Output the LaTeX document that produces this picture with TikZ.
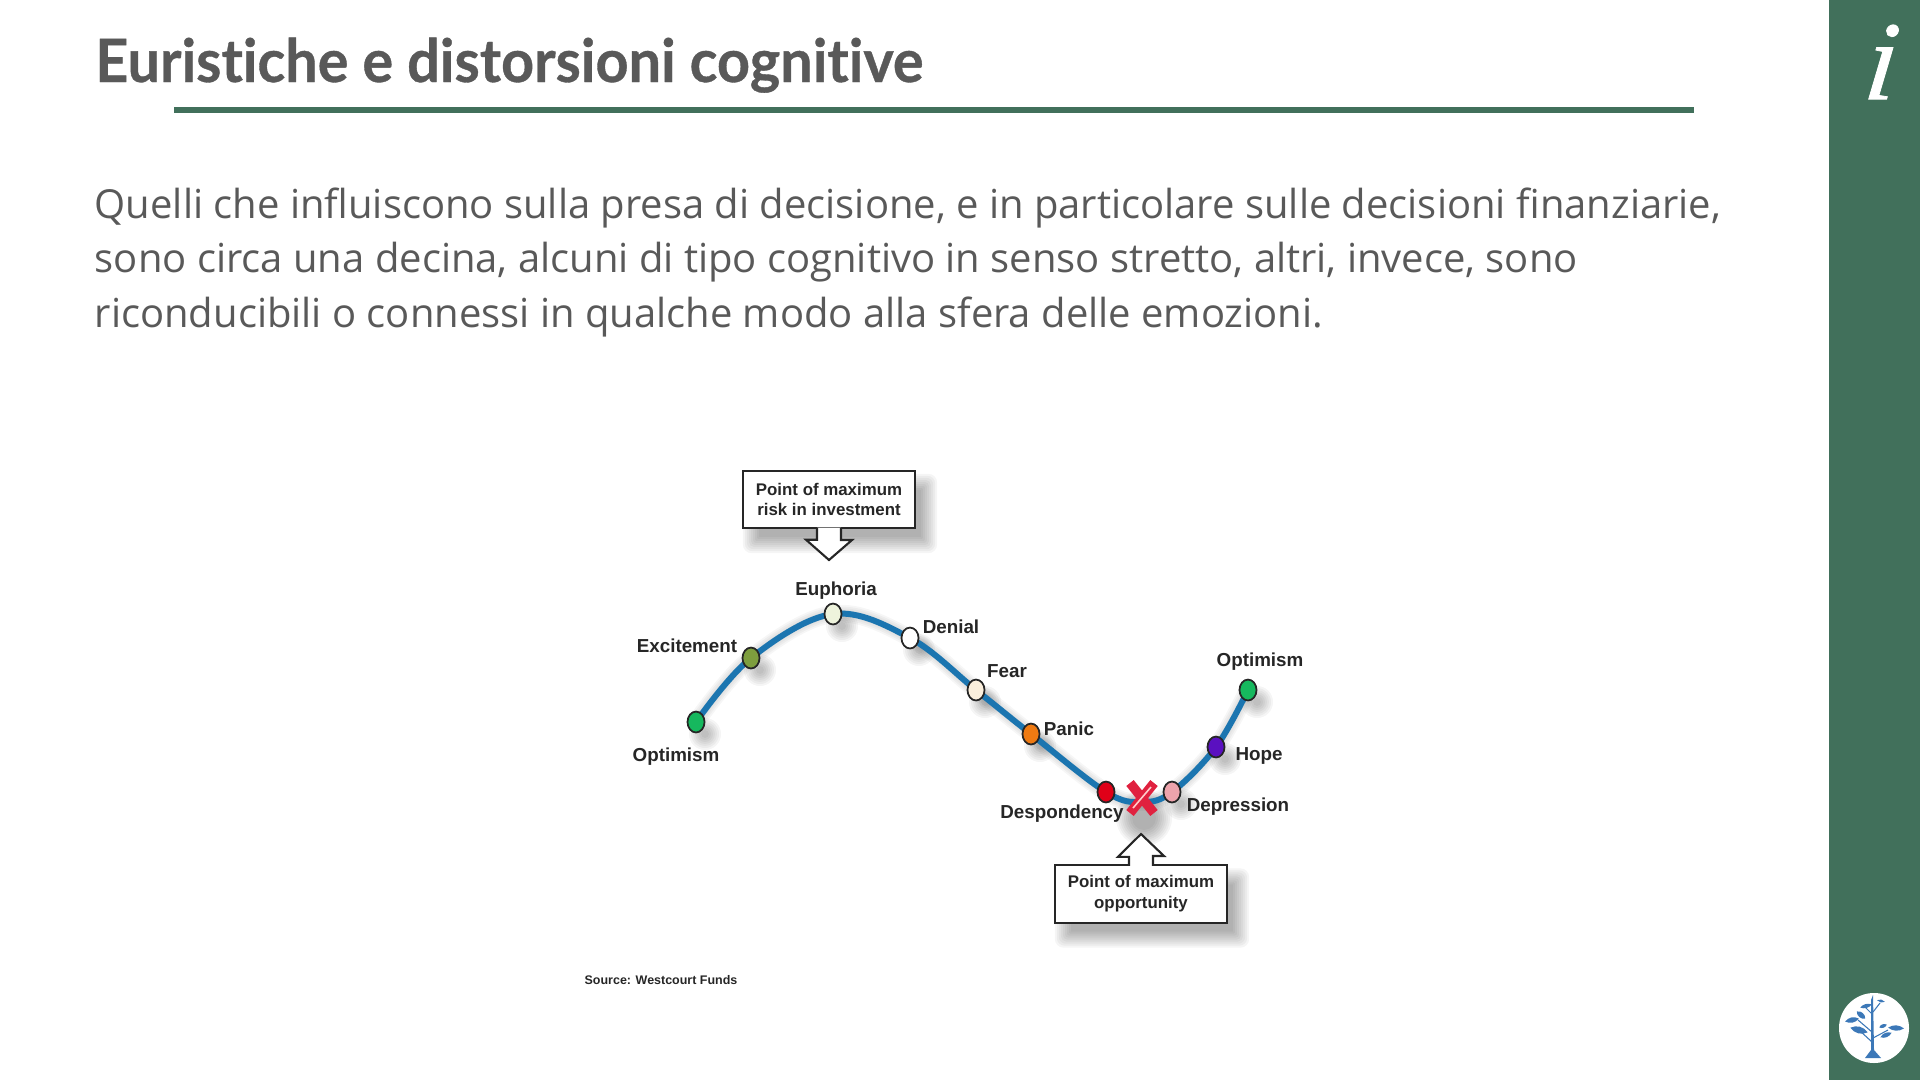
\documentclass[tikz,border=0pt]{standalone}
\usepackage{fontspec}
\usepackage{xcolor}
\setmainfont{Open Sans}
\newfontfamily\titlefont[Ligatures=NoCommon,FakeStretch=.964,BoldFeatures={FakeBold=.6}]{Lato}
\newfontfamily\labelfont{Liberation Sans}
\newfontfamily\infofont[FakeBold=.7,FakeSlant=.12]{Liberation Serif Italic}
\usetikzlibrary{positioning,calc,backgrounds,shapes.geometric}
\definecolor{barGreen}{HTML}{41705B}
\definecolor{textGray}{HTML}{595959}
\definecolor{curveBlue}{HTML}{1B75B0}
\definecolor{leafBlue}{HTML}{3C78B8}
\definecolor{crossRed}{HTML}{E0213F}
\definecolor{dotGreen}{HTML}{16B85E}
\definecolor{dotOlive}{HTML}{7E9E3E}
\definecolor{dotPale}{HTML}{EEF3DC}
\definecolor{dotCream}{HTML}{FBEFDC}
\definecolor{dotOrange}{HTML}{EE7A12}
\definecolor{dotRed}{HTML}{E00018}
\definecolor{dotPink}{HTML}{EDA3AC}
\definecolor{dotViolet}{HTML}{5A10C0}
\tikzset{
  stage/.style={ellipse,draw=black!85,line width=1pt,minimum width=9.7pt,minimum height=11.9pt,inner sep=0pt},
  stagetext/.style={font=\labelfont\bfseries\fontsize{10.7}{12}\selectfont,text=black!85,inner sep=0pt},
  callout/.style={draw=black!85,line width=1.2pt,fill=white,minimum width=98pt,minimum height=32.6pt,align=center,inner sep=0pt,
    font=\labelfont\bfseries\fontsize{9.6}{11.9}\selectfont,text=black!85},
  calloutarrow/.style={draw=black!85,line width=1.2pt,fill=white},
  softshade/.style={fill=black,fill opacity=.04,draw=none},
}
\begin{document}
\begin{tikzpicture}[x=0.02cm,y=-0.02cm]
  \useasboundingbox (0,0) rectangle (1920,1080);
  \fill[barGreen] (1829,0) rectangle (1920,1080);
  \fill[barGreen] (174,107) rectangle (1694,113);
  \node[anchor=base west,inner sep=0pt,text=textGray,font=\titlefont\bfseries\fontsize{34}{36}\selectfont] (title) at (95,82) {Euristiche e distorsioni cognitive};
  \node[anchor=base west,inner sep=0pt,text=textGray,align=left,font=\fontsize{22.75}{31.1}\selectfont] (intro) at (94.5,327.5)
    {Quelli che influiscono sulla presa di decisione, e in particolare sulle decisioni finanziarie,\\
     sono circa una decina, alcuni di tipo cognitivo in senso stretto, altri, invece, sono\\
     riconducibili o connessi in qualche modo alla sfera delle emozioni.};
  \node[text=white,inner sep=0pt,font=\infofont\fontsize{64}{64}\selectfont] (info) at (1878,62) {i};
  % logo
  \fill[white] (1874,1028) circle [radius=35];
  \fill[leafBlue] (1871,1000) -- (1873,995) -- (1874,1050) -- (1881,1058) -- (1865,1058) -- (1871,1050) -- cycle;
  \draw[leafBlue,line width=.6pt] (1872,1032) -- (1858,1020) (1872,1042) -- (1859,1030) (1873,1038) -- (1888,1030) (1873,1012) -- (1880,1003) (1872,1014) -- (1864,1006);
  \foreach \lx/\ly/\la/\ll/\lb in {1866/1006/15/6/35,1881/1001/-12/4/40,1861/1015/-40/5.5/55,1852/1020/12/7/40,1859/1030/-15/9/40,1883/1026/20/4/50,1896/1028/-3/8/35,1886/1035/22/6/40}
    \fill[leafBlue,shift={(\lx,\ly)},rotate=\la] (-\ll,0) to[bend left=\lb] (\ll,0) to[bend left=\lb] (-\ll,0) -- cycle;
  % curve points
  \coordinate (pOptL) at (696,722);
  \coordinate (pExc) at (751,658);
  \coordinate (pEup) at (833,614);
  \coordinate (pDen) at (910,638);
  \coordinate (pFea) at (976,690);
  \coordinate (pPan) at (1031,734);
  \coordinate (pDes) at (1106,792);
  \coordinate (pCro) at (1142,802);
  \coordinate (pDep) at (1172,792);
  \coordinate (pHop) at (1216,747);
  \coordinate (pOptR) at (1248,690);
  \draw[curveBlue,line width=3.4pt] plot[smooth,tension=.6] coordinates {(pOptL) (pExc) (pEup) (pDen) (pFea) (pPan) (pDes) (pCro) (pDep) (pHop) (pOptR)};
  \foreach \n/\c/\col in {a/pOptL/dotGreen,b/pExc/dotOlive,c/pEup/dotPale,d/pDen/white,e/pFea/dotCream,f/pPan/dotOrange,g/pDes/dotRed,h/pDep/dotPink,i/pHop/dotViolet,j/pOptR/dotGreen}
    \node[stage,fill=\col] (\n) at (\c) {};
  % cross
  \draw[crossRed,line width=5.4pt] (1130,783) -- (1154,813) (1154,783) -- (1130,813);
  \draw[red!20,line width=.9pt] (1133,808) -- (1151,787);
  % labels
  \node[stagetext] (lOptL) at (676,757) {Optimism};
  \node[stagetext] (lExc) at (687,646) {Excitement};
  \node[stagetext] (lEup) at (836,591) {Euphoria};
  \node[stagetext] (lDen) at (951,627) {Denial};
  \node[stagetext] (lFea) at (1007,671) {Fear};
  \node[stagetext] (lPan) at (1069,729) {Panic};
  \node[stagetext] (lDes) at (1062,814) {Despondency};
  \node[stagetext] (lDep) at (1238,807) {Depression};
  \node[stagetext] (lHop) at (1259,756) {Hope};
  \node[stagetext] (lOptR) at (1260,662) {Optimism};
  \node[stagetext,font=\labelfont\bfseries\fontsize{7.1}{8}\selectfont] (source) at (661,980) {Source: Westcourt Funds};
  % callouts
  \node[callout] (risk) at (829,499.5) {Point of maximum\\risk in investment};
  \node[callout] (opp) at (1141,894) {Point of maximum\\opportunity};
  \draw[calloutarrow] ($(risk.south)+(-12,-1.5)$) -- ++(0,12) -- ++(-11,0) -- (829,560) -- (852,540) -- ++(-11,0) -- ($(risk.south)+(12,-1.5)$);
  \draw[calloutarrow] ($(opp.north)+(-12,1.5)$) -- ++(0,-9) -- ++(-11,0) -- (1141,834) -- (1164,856) -- ++(-11,0) -- ($(opp.north)+(12,1.5)$);
  % shadows
  \begin{pgfonlayer}{background}
    \foreach \g in {-6,-4,...,10}{
      \fill[softshade,rounded corners=\g*0.3pt+2pt] ($(risk.south west)+(11-\g,14+\g)$) rectangle ($(risk.north east)+(11+\g,14-\g)$);
      \fill[softshade,rounded corners=\g*0.3pt+2pt] ($(opp.south west)+(11-\g,14+\g)$) rectangle ($(opp.north east)+(11+\g,14-\g)$);
      \fill[softshade] ($(pCro)+(2,16)$) circle [radius=18+\g];
    }
    \foreach \g in {0,2,...,12}
      \foreach \c in {pOptL,pExc,pEup,pDen,pFea,pPan,pDep,pHop,pOptR}
        \fill[softshade] ($(\c)+(9,12)$) circle [radius=4+\g];
    \foreach \w in {2,4,6,8,10}
      \draw[black,draw opacity=.035,line width=\w pt,xshift=0.12cm,yshift=-0.24cm] plot[smooth,tension=.6] coordinates {(pOptL) (pExc) (pEup) (pDen) (pFea) (pPan) (pDes) (pCro) (pDep) (pHop) (pOptR)};
  \end{pgfonlayer}
\end{tikzpicture}
\end{document}
